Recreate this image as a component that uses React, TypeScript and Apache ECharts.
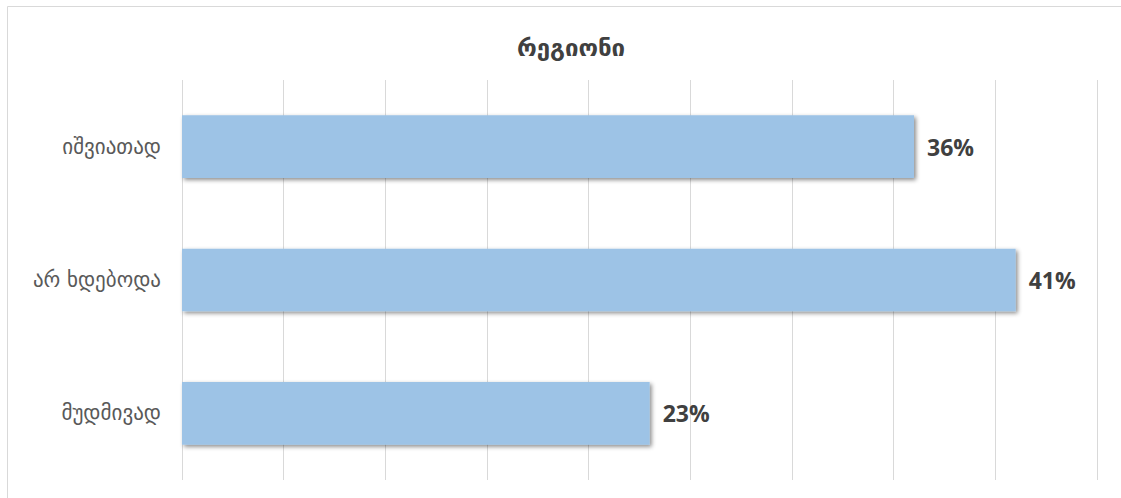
import React, { useEffect, useRef } from "react";
import * as echarts from "echarts";

const categories = ["იშვიათად", "არ ხდებოდა", "მუდმივად"];
const values = [36, 41, 23];
const titleText = "რეგიონი";

export default function App() {
  const ref = useRef<HTMLDivElement>(null);
  useEffect(() => {
    document.body.style.margin = "0";
    if (!ref.current) return;
    const chart = echarts.init(ref.current, null, { renderer: "svg" });
    chart.setOption({
      animation: false,
      backgroundColor: "#ffffff",
      title: {
        text: titleText,
        left: 566,
        top: 31,
        textAlign: "center",
        textStyle: {
          fontFamily: "DejaVu Sans",
          fontSize: 24,
          fontWeight: "bold",
          color: "#404040",
        },
      },
      graphic: [
        {
          type: "rect",
          shape: { x: 7.5, y: 6.5, width: 1300, height: 700 },
          style: { fill: "none", stroke: "#d9d9d9", lineWidth: 1 },
          silent: true,
        },
      ],
      grid: { left: 182, right: 24, top: 80, bottom: 18, containLabel: false },
      xAxis: {
        type: "value",
        min: 0,
        max: 45,
        interval: 5,
        axisLabel: { show: false },
        axisLine: { show: false },
        axisTick: { show: false },
        splitLine: { show: true, lineStyle: { color: "#d9d9d9", width: 1 } },
      },
      yAxis: {
        type: "category",
        data: categories,
        inverse: true,
        axisLine: { show: false },
        axisTick: { show: false },
        axisLabel: {
          margin: 21,
          fontFamily: "DejaVu Sans",
          fontSize: 21,
          color: "#595959",
        },
      },
      series: [
        {
          type: "bar",
          data: values,
          barCategoryGap: "53%",
          itemStyle: {
            color: "#9dc3e6",
            shadowColor: "rgba(0,0,0,0.45)",
            shadowBlur: 4,
            shadowOffsetX: 2,
            shadowOffsetY: 2,
          },
          label: {
            show: true,
            position: "right",
            distance: 13,
            formatter: "{c}%",
            fontFamily: "Open Sans",
            fontWeight: "bold",
            fontSize: 23,
            color: "#404040",
          },
        },
      ],
    });
    return () => chart.dispose();
  }, []);
  return <div ref={ref} style={{ width: 1121, height: 498 }} />;
}
